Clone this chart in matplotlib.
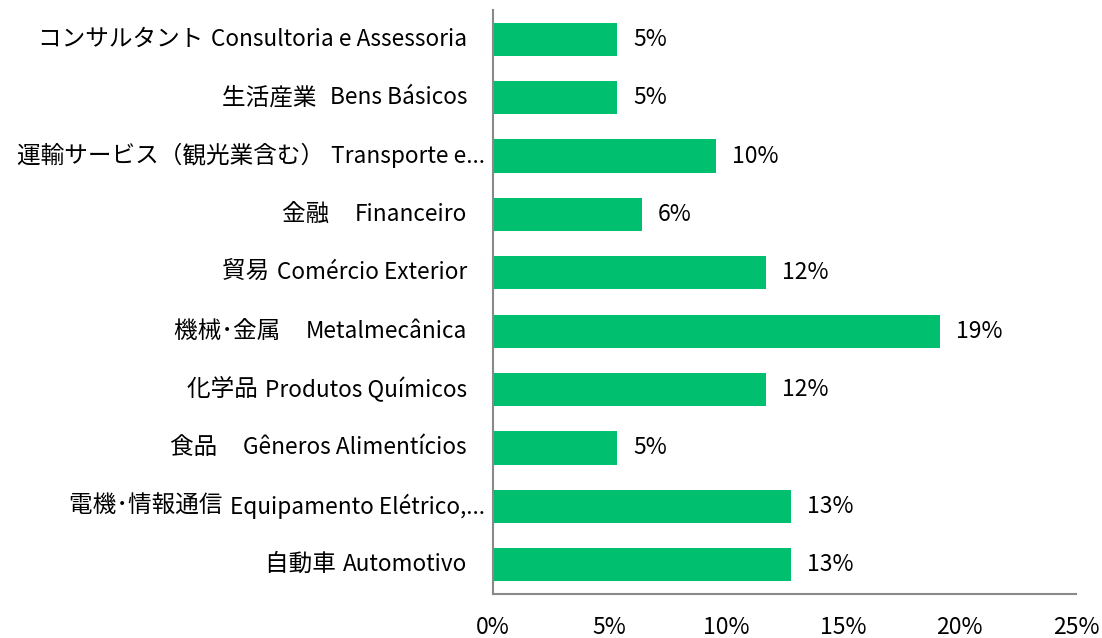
import matplotlib
matplotlib.use("Agg")
import matplotlib.pyplot as plt
import matplotlib.transforms as mtransforms
import numpy as np

plt.rcParams['font.family'] = ['Noto Sans CJK JP', 'DejaVu Sans']

# categories from bottom to top, Japanese part and Portuguese part
sectors_jp = [
    "自動車 ",
    "電機･情報通信 ",
    "食品　",
    "化学品 ",
    "機械･金属　",
    "貿易 ",
    "金融　",
    "運輸サービス（観光業含む） ",
    "生活産業  ",
    "コンサルタント ",
]
sectors_pt = [
    "Automotivo",
    "Equipamento Elétrico,...",
    "Gêneros Alimentícios",
    "Produtos Químicos",
    "Metalmecânica",
    "Comércio Exterior",
    "Financeiro",
    "Transporte e...",
    "Bens Básicos",
    "Consultoria e Assessoria",
]
shares = [12.77, 12.77, 5.32, 11.70, 19.15, 11.70, 6.38, 9.57, 5.32, 5.32]
xticks = [0, 5, 10, 15, 20, 25]
truncated = [1, 7]

green = "#00BF6F"
spine_col = "#898989"
fs_pt = 16.3
fs_jp = 17
fs_num = 16.5

fig = plt.figure(figsize=(11.02, 6.38), dpi=100)
ax = fig.add_axes([0.4474, 0.069, 0.9764 - 0.4474, 0.9843 - 0.069])

y = np.arange(len(shares))
ax.barh(y, shares, height=0.57, color=green)

for yi, v in zip(y, shares):
    ax.annotate(f"{v:.0f}%", (v, yi), xytext=(11.5, 0), textcoords="offset points",
                ha="left", va="center", fontsize=fs_num, color="#000000")

ax.set_xlim(0, 25)
ax.set_ylim(-0.5, len(shares) - 0.5)
ax.set_xticks(xticks)
ax.set_xticklabels([f"{t}%" for t in xticks], fontsize=fs_num)
ax.set_yticks(y)
ax.set_yticklabels([])
ax.tick_params(axis="y", length=0)
ax.tick_params(axis="x", length=0, pad=16)

# category labels: portuguese right-aligned near the axis, japanese in front of it
trans = mtransforms.blended_transform_factory(ax.transAxes, ax.transData)
for i, (jp, pt) in enumerate(zip(sectors_jp, sectors_pt)):
    off = 0.08 if i in truncated else 0.26
    t = ax.text(0, i, pt, transform=trans + mtransforms.ScaledTranslation(-off, 0, fig.dpi_scale_trans),
                ha="right", va="center", fontsize=fs_pt)
    ax.annotate(jp, xy=(0, 0.5), xycoords=t, xytext=(-1.5, 0), textcoords="offset points",
                ha="right", va="center", fontsize=fs_jp)

for s in ["top", "right"]:
    ax.spines[s].set_visible(False)
for s in ["left", "bottom"]:
    ax.spines[s].set_color(spine_col)
    ax.spines[s].set_linewidth(1.5)

fig.savefig("out.png", dpi=100)
